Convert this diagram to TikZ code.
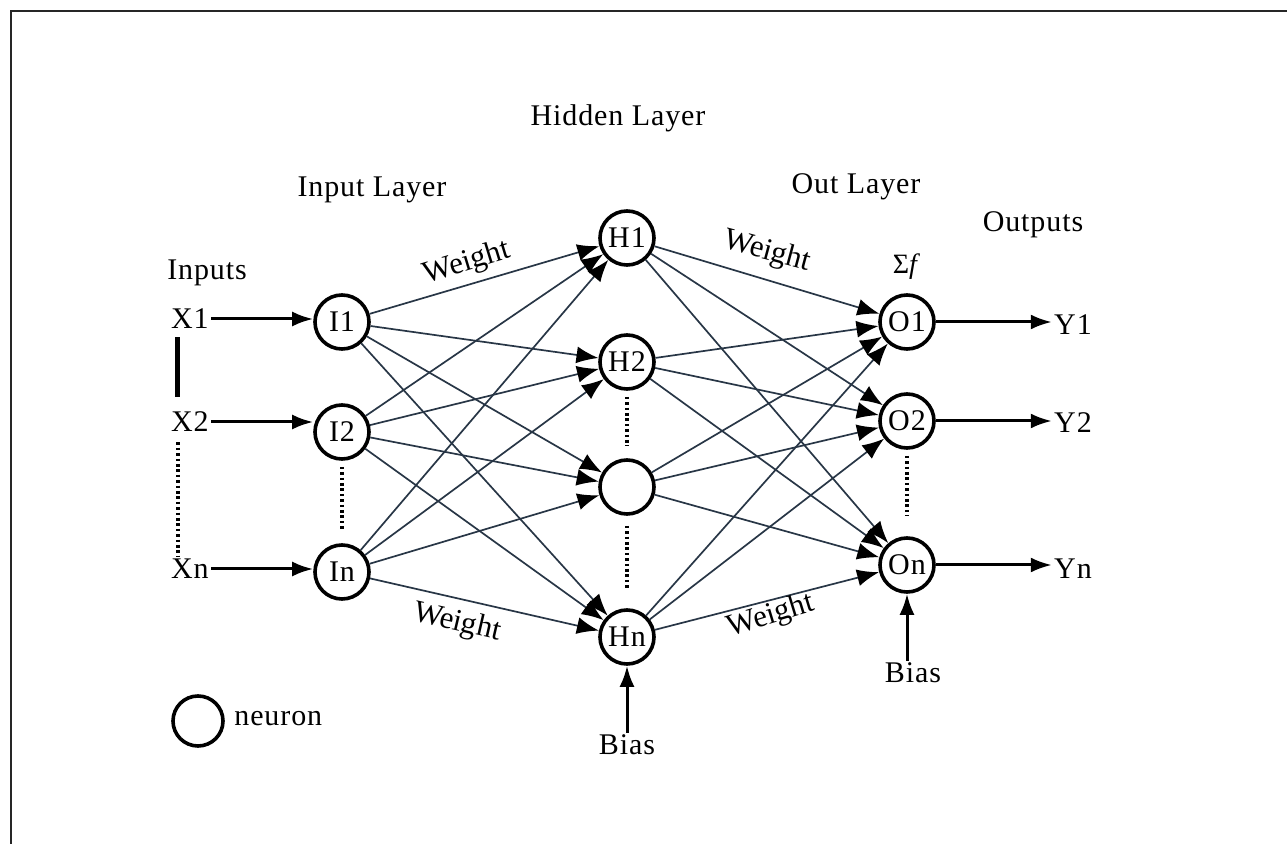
\documentclass[tikz,border=0pt]{standalone}
\usepackage{fontspec}
\setmainfont{Liberation Serif}[LetterSpace=3]
\newfontfamily\wfont{Liberation Serif}
\usetikzlibrary{arrows.meta}
\definecolor{wire}{RGB}{40,54,70}
\begin{document}
\begin{tikzpicture}[x=0.5pt,y=-0.5pt,
  neuron/.style={circle,draw=black,line width=1.8pt,minimum size=27pt,inner sep=0pt,fill=white,font=\fontsize{15}{17}\selectfont},
  lbl/.style={font=\fontsize{15}{17}\selectfont,inner sep=1pt},
  wlbl/.style={font=\wfont\fontsize{15.5}{17}\selectfont,inner sep=0pt},
  wt/.style={wire,line width=0.85pt,-{Latex[length=11pt,width=8.5pt,color=black]}},
  feed/.style={black,line width=1.5pt,-{Latex[length=10.5pt,width=7.5pt]}},
  dots/.style={black,line width=2.2pt,dash pattern=on 1.3pt off 1.4pt}]
\useasboundingbox (0,0) rectangle (1287,844);
% partial frame
\draw[line width=1pt,black!85] (11,844) -- (11,11) -- (1287,11);

% headings
\node[lbl] (hl) at (618,118) {Hidden Layer};
\node[lbl] (il) at (372,190) {Input Layer};
\node[lbl] (ol) at (856,187) {Out Layer};
\node[lbl] (outs) at (1033,225) {Outputs};
\node[lbl] (ins) at (207,273) {Inputs};

% input labels
\node[lbl] (x1) at (190,319) {X1};
\node[lbl] (x2) at (190,422) {X2};
\node[lbl] (xn) at (190,569) {Xn};

% neurons
\node[neuron] (i1) at (342,322) {I1};
\node[neuron] (i2) at (342,432) {I2};
\node[neuron] (in) at (342,572) {In};
\node[neuron] (h1) at (627,238) {H1};
\node[neuron] (h2) at (627,362) {H2};
\node[neuron] (hm) at (627,487) {};
\node[neuron] (hn) at (627,637) {Hn};
\node[neuron] (o1) at (907,322) {O1};
\node[neuron] (o2) at (907,421) {O2};
\node[neuron] (on) at (907,565) {On};

% outputs
\node[lbl] (y1) at (1073,325) {Y1};
\node[lbl] (y2) at (1073,423) {Y2};
\node[lbl] (yn) at (1073,569) {Yn};

% weighted connections
\foreach \a in {i1,i2,in}
  \foreach \b in {h1,h2,hm,hn}
    \draw[wt] (\a) -- (\b);
\foreach \a in {h1,h2,hm,hn}
  \foreach \b in {o1,o2,on}
    \draw[wt] (\a) -- (\b);

% inputs and outputs (horizontal feeds)
\draw[feed] (x1.east) -- (x1.east -| i1.west);
\draw[feed] (x2.east) -- (x2.east -| i2.west);
\draw[feed] (xn.east) -- (xn.east -| in.west);
\draw[feed] (o1.east) -- (o1.east -| y1.west);
\draw[feed] (o2.east) -- (o2.east -| y2.west);
\draw[feed] (on.east) -- (on.east -| yn.west);

% ellipses between layers
\draw[black,line width=2.6pt] (x1.south west) ++(9,6) coordinate (xa) -- ++(0,60);
\draw[dots] (x2.south west) ++(9,8) coordinate (xb) -- (xn.north west -| xb);
\draw[dots] (i2.south) ++(0,6) -- ([yshift=6pt]in.north);
\draw[dots] (h2.south) ++(0,6) -- ([yshift=6pt]hm.north);
\draw[dots] (hm.south) ++(0,10) -- ([yshift=10pt]hn.north);
\draw[dots] (o2.south) ++(0,6) -- ([yshift=10pt]on.north);

% biases
\node[lbl] (bh) at (627,745) {Bias};
\node[lbl] (bo) at (913,673) {Bias};
\draw[feed] (bh) -- (hn);
\draw[feed] (bo.north -| on) -- (on);

% activation
\node[font=\fontsize{14}{16}\selectfont,inner sep=1pt] (sf) at (907,267) {Σ\textit{f}};

% weight labels
\node[wlbl,rotate=17] (w1) at (467,263) {Weight};
\node[wlbl,rotate=-15] (w2) at (767,252) {Weight};
\node[wlbl,rotate=-13] (w3) at (457,623) {Weight};
\node[wlbl,rotate=17] (w4) at (771,616) {Weight};

% legend
\node[neuron,minimum size=25pt] (leg) at (198,721) {};
\node[lbl,anchor=west] (legt) at (232,719) {neuron};
\end{tikzpicture}
\end{document}
